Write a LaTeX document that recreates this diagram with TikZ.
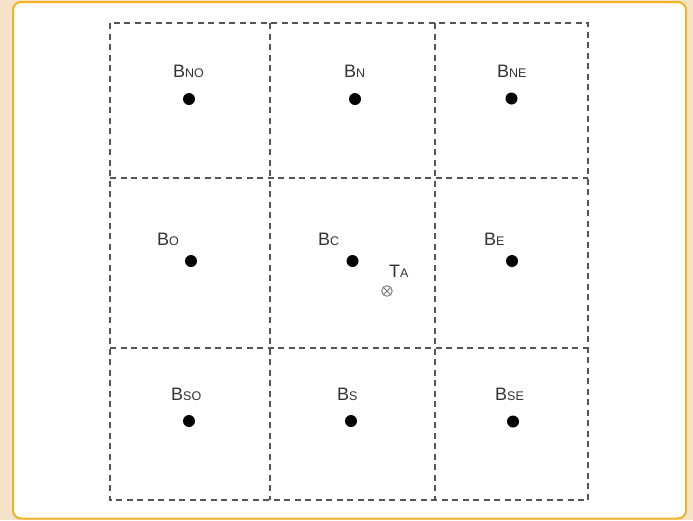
\documentclass[tikz,border=0pt]{standalone}
\usepackage{fontspec}
\setmainfont{Liberation Sans}
\usepackage{xcolor}
\usetikzlibrary{positioning, calc}
\definecolor{panelbg}{HTML}{F4E3C9}
\definecolor{panelline}{HTML}{F2B226}
\definecolor{gridgray}{HTML}{555555}
\definecolor{labelgray}{HTML}{333333}

% label "B" with a small capital index on the baseline
\newcommand{\bname}[1]{{\fontsize{18}{18}\selectfont B}{\fontsize{12.5}{12.5}\selectfont #1}}

\begin{document}
\begin{tikzpicture}[
    x=1pt, y=-1pt,
    cellline/.style={draw=gridgray, line width=1.8pt, dash pattern=on 6pt off 4.5pt},
    bdot/.style={circle, fill=black, inner sep=0pt, minimum size=12pt},
    blabel/.style={anchor=base west, inner sep=0pt, text=labelgray},
    target/.style={circle, draw=gridgray!80, line width=0.9pt, inner sep=0pt, minimum size=10.5pt}
]
    \useasboundingbox (0,0) rectangle (693,520);
    \fill[panelbg] (0,0) rectangle (693,520);
    \draw[panelline, line width=2pt, fill=white, rounded corners=8pt] (13,2) rectangle (686,518.5);

    % dashed cells
    \draw[cellline] (110,23) rectangle (588,500);
    \foreach \x in {270,435}
        \draw[cellline] (\x,23) -- (\x,500);
    \foreach \y in {178,348}
        \draw[cellline] (110,\y) -- (588,\y);

    % row 1
    \node[bdot] (bno) at (189,99) {};
    \node[bdot] (bn) at (355,99) {};
    \node[bdot] (bne) at (511.5,98.5) {};
    \node[blabel] (bno-l) at (173,77) {\bname{NO}};
    \node[blabel] (bn-l) at (344,77) {\bname{N}};
    \node[blabel] (bne-l) at (497,77) {\bname{NE}};

    % row 2
    \node[bdot] (bo) at (191,261) {};
    \node[bdot] (bc) at (352.5,261) {};
    \node[bdot] (be) at (512,261) {};
    \node[blabel] (bo-l) at (157,245) {\bname{O}};
    \node[blabel] (bc-l) at (318,245) {\bname{C}};
    \node[blabel] (be-l) at (484,245) {\bname{E}};

    % target
    \node[target] (ta) at (387,291) {};
    \draw[gridgray!80, line width=0.8pt] (ta.north west) -- (ta.south east) (ta.north east) -- (ta.south west);
    \node[blabel] (ta-l) at (389,277) {{\fontsize{18}{18}\selectfont T}{\fontsize{12.5}{12.5}\selectfont A}};

    % row 3
    \node[bdot] (bso) at (189,421) {};
    \node[bdot] (bs) at (351,421) {};
    \node[bdot] (bse) at (513,421.5) {};
    \node[blabel] (bso-l) at (171,400) {\bname{SO}};
    \node[blabel] (bs-l) at (337,400) {\bname{S}};
    \node[blabel] (bse-l) at (495,400) {\bname{SE}};
\end{tikzpicture}
\end{document}
